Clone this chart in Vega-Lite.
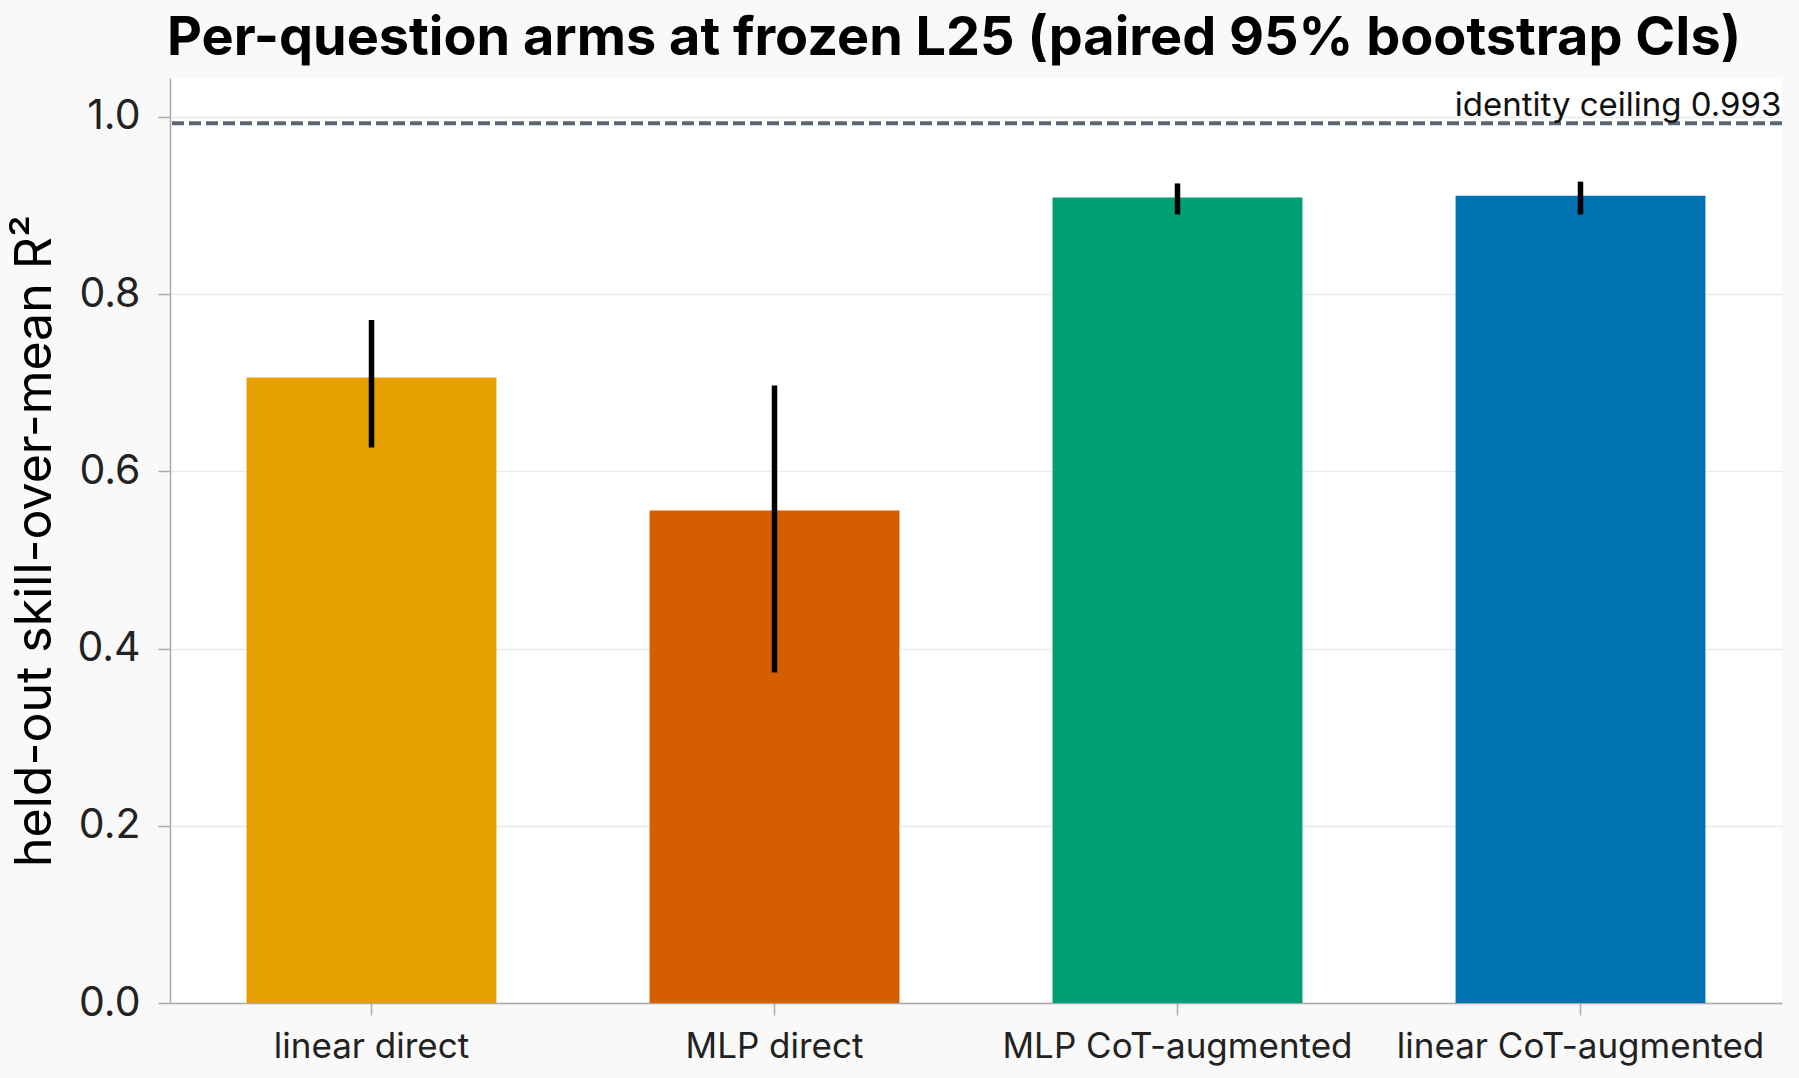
{
  "$schema": "https://vega.github.io/schema/vega-lite/v6.json",
  "width": 1612,
  "height": 925,
  "autosize": {"type": "none"},
  "padding": {"left": 170, "top": 78, "right": 17, "bottom": 75},
  "background": "#f9f9f9",
  "title": {
    "text": "Per-question arms at frozen L25 (paired 95% bootstrap CIs)",
    "font": "Inter",
    "fontSize": 54,
    "fontWeight": "bold",
    "color": "#000000",
    "anchor": "middle",
    "dx": -22,
    "offset": 12
  },
  "datasets": {
    "arms": [
      {"arm": "linear direct", "r2": 0.706, "lo": 0.627, "hi": 0.771},
      {"arm": "MLP direct", "r2": 0.556, "lo": 0.373, "hi": 0.697},
      {"arm": "MLP CoT-augmented", "r2": 0.909, "lo": 0.890, "hi": 0.925},
      {"arm": "linear CoT-augmented", "r2": 0.911, "lo": 0.890, "hi": 0.927}
    ],
    "ceiling": [
      {"arm": "linear CoT-augmented", "r2": 0.993, "label": "identity ceiling 0.993"}
    ]
  },
  "layer": [
    {
      "data": {"name": "arms"},
      "mark": {"type": "bar"},
      "encoding": {
        "x": {
          "field": "arm",
          "type": "nominal",
          "sort": ["linear direct", "MLP direct", "MLP CoT-augmented", "linear CoT-augmented"],
          "scale": {"paddingInner": 0.38, "paddingOuter": 0.19},
          "axis": {
            "title": null,
            "labelAngle": 0,
            "labelFont": "Inter",
            "labelFontSize": 35,
            "labelLimit": 0,
            "labelColor": "#222222",
            "labelPadding": 14,
            "tickSize": 12,
            "tickColor": "#aaaaaa",
            "tickWidth": 1.5,
            "domainColor": "#aaaaaa",
            "domainWidth": 1.5,
            "grid": false
          }
        },
        "y": {
          "field": "r2",
          "type": "quantitative",
          "scale": {"domain": [0, 1.044], "nice": false, "zero": true},
          "axis": {
            "title": "held-out skill-over-mean R²",
            "titleFont": "Inter",
            "titleFontSize": 50,
            "titleFontWeight": "normal",
            "titleColor": "#000000",
            "titlePadding": 16,
            "values": [0, 0.2, 0.4, 0.6, 0.8, 1.0],
            "format": ".1f",
            "labelFont": "Inter",
            "labelFontSize": 41,
            "labelColor": "#222222",
            "labelPadding": 18,
            "tickSize": 12,
            "tickColor": "#aaaaaa",
            "tickWidth": 1.5,
            "domainColor": "#aaaaaa",
            "domainWidth": 1.5,
            "grid": true,
            "gridColor": "#ebebeb",
            "gridWidth": 1.5
          }
        },
        "color": {
          "field": "arm",
          "type": "nominal",
          "scale": {
            "domain": ["linear direct", "MLP direct", "MLP CoT-augmented", "linear CoT-augmented"],
            "range": ["#E69F00", "#D55E00", "#009E73", "#0072B2"]
          },
          "legend": null
        }
      }
    },
    {
      "data": {"name": "arms"},
      "mark": {"type": "rule", "color": "#000000", "strokeWidth": 5.5},
      "encoding": {
        "x": {"field": "arm", "type": "nominal", "sort": ["linear direct", "MLP direct", "MLP CoT-augmented", "linear CoT-augmented"]},
        "y": {"field": "lo", "type": "quantitative"},
        "y2": {"field": "hi"}
      }
    },
    {
      "data": {"name": "ceiling"},
      "mark": {"type": "rule", "color": "#5a6675", "strokeWidth": 4, "strokeDash": [12, 5]},
      "encoding": {
        "y": {"field": "r2", "type": "quantitative"}
      }
    },
    {
      "data": {"name": "ceiling"},
      "mark": {
        "type": "text",
        "align": "right",
        "baseline": "alphabetic",
        "dx": 76,
        "dy": -7,
        "font": "Inter",
        "fontSize": 33,
        "color": "#111111"
      },
      "encoding": {
        "x": {"field": "arm", "type": "nominal", "sort": ["linear direct", "MLP direct", "MLP CoT-augmented", "linear CoT-augmented"], "bandPosition": 1},
        "y": {"field": "r2", "type": "quantitative"},
        "text": {"field": "label"}
      }
    }
  ],
  "config": {
    "view": {"fill": "#ffffff", "stroke": null}
  }
}
